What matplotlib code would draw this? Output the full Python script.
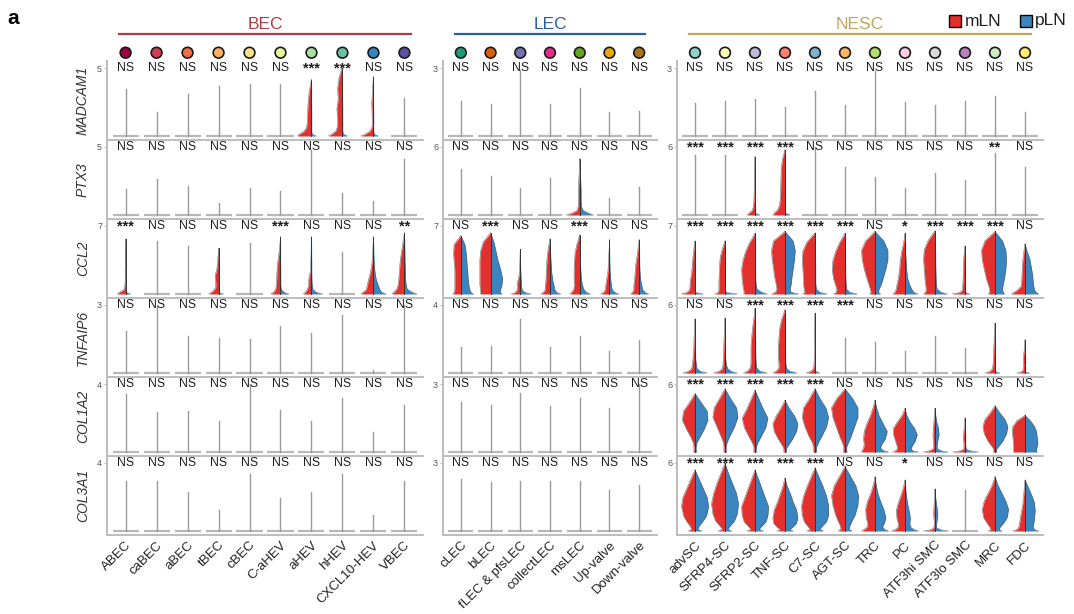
"""
Split violin plots of stromal marker genes (mLN vs pLN) across BEC, LEC and NESC subsets.
"""

import numpy as np
import matplotlib.pyplot as plt
from matplotlib.patches import Rectangle
from matplotlib.transforms import blended_transform_factory

plt.rcParams['font.family'] = ['Liberation Sans', 'DejaVu Sans']


### Data

bec_cells = ['ABEC', 'caBEC', 'aBEC', 'tBEC', 'cBEC', 'C-aHEV', 'aHEV', 'hHEV',
             'CXCL10-HEV', 'VBEC']
lec_cells = ['cLEC', 'bLEC', 'fLEC & pfsLEC', 'collectLEC', 'msLEC', 'Up-valve',
             'Down-valve']
nesc_cells = ['advSC', 'SFRP4-SC', 'SFRP2-SC', 'TNF-SC', 'C7-SC', 'AGT-SC', 'TRC',
              'PC', 'ATF3hi SMC', 'ATF3lo SMC', 'MRC', 'FDC']

bec_dots = ['#9e0142', '#d53e4f', '#f46d43', '#fdae61', '#fee08b', '#e6f598',
            '#abdda4', '#66c2a5', '#3288bd', '#5e4fa2']
lec_dots = ['#1b9e77', '#d95f02', '#7570b3', '#e7298a', '#66a61e', '#e6ab02',
            '#a6761d']
nesc_dots = ['#8dd3c7', '#ffffb3', '#bebada', '#fb8072', '#80b1d3', '#fdb462',
             '#b3de69', '#fccde5', '#d9d9d9', '#bc80bd', '#ccebc5', '#ffed6f']

genes = ['MADCAM1', 'PTX3', 'CCL2', 'TNFAIP6', 'COL1A2', 'COL3A1']
ymax_bec = [5, 5, 7, 3, 4, 4]
ymax_lec = [3, 6, 7, 4, 3, 3]
ymax_nesc = [3, 6, 7, 6, 6, 6]

# top of each violin as a fraction of the panel maximum (BEC 10, LEC 7, NESC 12)
madcam1_top = [0.69, 0.35, 0.62, 0.73, 0.77, 0.77, 0.83, 1.00, 0.87, 0.56,
               0.52, 0.47, 0.97, 0.47, 0.71, 0.36, 0.37,
               0.48, 0.52, 0.54, 0.43, 0.66, 0.45, 0.95, 0.50, 0.45, 0.52, 0.59, 0.36]
ptx3_top = [0.38, 0.53, 0.42, 0.18, 0.40, 0.35, 0.95, 0.32, 0.21, 0.82,
            0.67, 0.58, 0.40, 0.55, 0.83, 0.25, 0.41,
            0.88, 0.88, 0.86, 0.96, 1.00, 0.70, 0.56, 0.40, 0.62, 0.52, 0.91, 0.70]
ccl2_top = [0.81, 0.78, 0.70, 0.67, 0.75, 0.84, 0.84, 0.62, 0.84, 0.90,
            0.86, 0.90, 0.66, 0.81, 0.87, 0.80, 0.80,
            0.78, 0.78, 0.89, 0.92, 0.90, 0.89, 0.92, 0.89, 0.93, 0.71, 0.92, 0.74]
tnfaip6_top = [0.62, 1.00, 0.55, 0.51, 0.50, 0.69, 0.59, 0.86, 0.05, 1.00,
               0.38, 0.40, 0.80, 0.38, 0.54, 0.33, 0.49,
               0.80, 0.81, 0.95, 0.93, 0.88, 0.51, 0.45, 0.33, 0.54, 0.37, 0.73, 0.49]
col1a2_top = [0.86, 0.59, 0.60, 0.46, 1.00, 0.62, 0.45, 0.79, 0.30, 0.69,
              0.73, 0.69, 0.87, 0.68, 0.79, 0.65, 1.00,
              0.86, 0.93, 0.91, 0.76, 0.93, 0.93, 0.76, 0.64, 0.64, 0.50, 0.68, 0.54]
col3a1_top = [0.74, 0.74, 0.58, 0.31, 0.84, 0.48, 0.58, 0.84, 0.23, 0.74,
              0.77, 0.72, 0.74, 0.73, 0.73, 0.60, 0.68,
              0.90, 1.00, 0.90, 0.78, 0.93, 0.95, 0.80, 0.75, 0.62, 0.60, 0.80, 0.75]

madcam1_sig = ['NS', 'NS', 'NS', 'NS', 'NS', 'NS', '***', '***', 'NS', 'NS',
               'NS', 'NS', 'NS', 'NS', 'NS', 'NS', 'NS',
               'NS', 'NS', 'NS', 'NS', 'NS', 'NS', 'NS', 'NS', 'NS', 'NS', 'NS', 'NS']
ptx3_sig = ['NS', 'NS', 'NS', 'NS', 'NS', 'NS', 'NS', 'NS', 'NS', 'NS',
            'NS', 'NS', 'NS', 'NS', 'NS', 'NS', 'NS',
            '***', '***', '***', '***', 'NS', 'NS', 'NS', 'NS', 'NS', 'NS', '**', 'NS']
ccl2_sig = ['***', 'NS', 'NS', 'NS', 'NS', '***', 'NS', 'NS', 'NS', '**',
            'NS', '***', 'NS', 'NS', '***', 'NS', 'NS',
            '***', '***', '***', '***', '***', '***', 'NS', '*', '***', '***', '***', 'NS']
tnfaip6_sig = ['NS', 'NS', 'NS', 'NS', 'NS', 'NS', 'NS', 'NS', 'NS', 'NS',
               'NS', 'NS', 'NS', 'NS', 'NS', 'NS', 'NS',
               'NS', 'NS', '***', '***', '***', '***', 'NS', 'NS', 'NS', 'NS', 'NS', 'NS']
col1a2_sig = ['NS', 'NS', 'NS', 'NS', 'NS', 'NS', 'NS', 'NS', 'NS', 'NS',
              'NS', 'NS', 'NS', 'NS', 'NS', 'NS', 'NS',
              '***', '***', '***', '***', '***', 'NS', 'NS', 'NS', 'NS', 'NS', 'NS', 'NS']
col3a1_sig = ['NS', 'NS', 'NS', 'NS', 'NS', 'NS', 'NS', 'NS', 'NS', 'NS',
              'NS', 'NS', 'NS', 'NS', 'NS', 'NS', 'NS',
              '***', '***', '***', '***', '***', 'NS', 'NS', '*', 'NS', 'NS', 'NS', 'NS']

# violin half-widths (mLN left, pLN right) at fixed fractions of violin height
prof_h = [0, 0.03, 0.08, 0.15, 0.25, 0.40, 0.55, 0.70, 0.85, 1.0]
thin = [0.35, 0.05, 0.02, 0.02, 0.02, 0.02, 0.01, 0.01, 0.01, 0.0]

madcam1_shapes = {
    'aHEV': ([1.0, 0.9, 0.55, 0.35, 0.3, 0.28, 0.25, 0.2, 0.12, 0.0], thin),
    'hHEV': ([1.0, 0.75, 0.45, 0.35, 0.35, 0.4, 0.3, 0.35, 0.25, 0.05], thin),
    'CXCL10-HEV': ([0.9, 0.6, 0.25, 0.1, 0.08, 0.1, 0.12, 0.08, 0.05, 0.0], thin),
}
ptx3_shapes = {
    'msLEC': ([1.0, 0.6, 0.2, 0.12, 0.1, 0.1, 0.08, 0.05, 0.02, 0.0],
              [1.0, 0.7, 0.25, 0.12, 0.1, 0.1, 0.08, 0.05, 0.02, 0.0]),
    'SFRP2-SC': ([0.6, 0.45, 0.2, 0.12, 0.08, 0.06, 0.05, 0.04, 0.02, 0.0], thin),
    'TNF-SC': ([0.9, 0.8, 0.55, 0.4, 0.35, 0.32, 0.3, 0.28, 0.2, 0.0], thin),
}
ccl2_shapes = {
    'ABEC': ([0.6, 0.45, 0.12, 0.05, 0.03, 0.03, 0.02, 0.02, 0.01, 0.0], thin),
    'tBEC': ([0.7, 0.55, 0.35, 0.2, 0.2, 0.25, 0.12, 0.06, 0.03, 0.0], thin),
    'C-aHEV': ([0.7, 0.5, 0.35, 0.3, 0.28, 0.25, 0.2, 0.12, 0.05, 0.0],
               [0.6, 0.25, 0.05, 0.02, 0.02, 0.02, 0.01, 0.01, 0.01, 0.0]),
    'aHEV': ([0.6, 0.45, 0.3, 0.2, 0.2, 0.08, 0.05, 0.03, 0.02, 0.0],
             [0.8, 0.35, 0.1, 0.05, 0.03, 0.02, 0.02, 0.01, 0.01, 0.0]),
    'CXCL10-HEV': ([0.9, 0.75, 0.5, 0.45, 0.35, 0.2, 0.1, 0.06, 0.03, 0.0],
                   [0.9, 0.6, 0.45, 0.35, 0.2, 0.1, 0.05, 0.03, 0.02, 0.0]),
    'VBEC': ([0.9, 0.75, 0.55, 0.45, 0.4, 0.35, 0.3, 0.2, 0.1, 0.0],
             [0.9, 0.55, 0.2, 0.12, 0.08, 0.06, 0.04, 0.03, 0.02, 0.0]),
    'cLEC': ([0.6, 0.5, 0.45, 0.45, 0.45, 0.45, 0.5, 0.55, 0.5, 0.0],
             [0.95, 0.75, 0.65, 0.6, 0.55, 0.5, 0.45, 0.4, 0.3, 0.0]),
    'bLEC': ([0.75, 0.75, 0.75, 0.8, 0.8, 0.8, 0.8, 0.75, 0.55, 0.0],
             [0.85, 0.7, 0.75, 0.85, 0.9, 0.75, 0.55, 0.4, 0.25, 0.0]),
    'fLEC & pfsLEC': ([0.7, 0.4, 0.25, 0.2, 0.22, 0.1, 0.05, 0.03, 0.02, 0.0],
                      [0.8, 0.4, 0.15, 0.1, 0.08, 0.05, 0.03, 0.02, 0.01, 0.0]),
    'collectLEC': ([0.7, 0.5, 0.35, 0.35, 0.3, 0.28, 0.25, 0.2, 0.12, 0.0],
                   [0.8, 0.5, 0.35, 0.3, 0.2, 0.12, 0.08, 0.05, 0.03, 0.0]),
    'msLEC': ([0.75, 0.6, 0.45, 0.4, 0.42, 0.42, 0.4, 0.35, 0.2, 0.0],
              [0.8, 0.5, 0.3, 0.2, 0.12, 0.08, 0.05, 0.03, 0.02, 0.0]),
    'Up-valve': ([0.65, 0.45, 0.3, 0.28, 0.22, 0.12, 0.08, 0.05, 0.02, 0.0],
                 [0.7, 0.4, 0.2, 0.15, 0.1, 0.05, 0.03, 0.02, 0.01, 0.0]),
    'Down-valve': ([0.65, 0.5, 0.4, 0.4, 0.35, 0.3, 0.25, 0.15, 0.08, 0.0],
                   [0.7, 0.45, 0.25, 0.2, 0.12, 0.06, 0.04, 0.02, 0.01, 0.0]),
    'advSC': ([1.0, 0.6, 0.4, 0.37, 0.35, 0.25, 0.2, 0.15, 0.08, 0.0],
              [0.6, 0.05, 0.02, 0.02, 0.02, 0.02, 0.01, 0.01, 0.01, 0.0]),
    'SFRP4-SC': ([0.75, 0.5, 0.45, 0.45, 0.45, 0.42, 0.4, 0.35, 0.2, 0.0],
                 [0.9, 0.1, 0.03, 0.02, 0.02, 0.02, 0.01, 0.01, 0.01, 0.0]),
    'SFRP2-SC': ([0.85, 0.8, 0.85, 0.9, 0.95, 1.0, 0.9, 0.7, 0.4, 0.0],
                 [0.9, 0.5, 0.15, 0.08, 0.05, 0.04, 0.03, 0.02, 0.01, 0.0]),
    'TNF-SC': ([1.0, 0.7, 0.6, 0.65, 0.75, 0.85, 0.95, 1.0, 0.85, 0.0],
               [1.0, 0.45, 0.37, 0.45, 0.5, 0.6, 0.7, 0.75, 0.6, 0.0]),
    'C7-SC': ([0.9, 0.75, 0.8, 0.85, 0.85, 0.9, 0.95, 0.9, 0.6, 0.0],
              [0.9, 0.35, 0.1, 0.06, 0.05, 0.05, 0.04, 0.03, 0.02, 0.0]),
    'AGT-SC': ([0.85, 0.65, 0.6, 0.7, 0.85, 0.95, 0.9, 0.7, 0.4, 0.0],
               [0.9, 0.35, 0.12, 0.08, 0.06, 0.05, 0.04, 0.03, 0.02, 0.0]),
    'TRC': ([0.4, 0.3, 0.35, 0.45, 0.6, 0.8, 0.95, 1.0, 0.7, 0.0],
            [0.4, 0.25, 0.3, 0.45, 0.6, 0.8, 0.95, 0.95, 0.65, 0.0]),
    'PC': ([0.9, 0.75, 0.65, 0.6, 0.5, 0.4, 0.35, 0.25, 0.1, 0.0],
           [0.95, 0.65, 0.5, 0.35, 0.2, 0.12, 0.08, 0.04, 0.02, 0.0]),
    'ATF3hi SMC': ([0.85, 0.7, 0.65, 0.7, 0.75, 0.8, 0.85, 0.8, 0.5, 0.0],
                   [0.9, 0.45, 0.15, 0.1, 0.08, 0.06, 0.05, 0.04, 0.02, 0.0]),
    'ATF3lo SMC': ([0.95, 0.4, 0.2, 0.18, 0.15, 0.13, 0.12, 0.1, 0.06, 0.0], thin),
    'MRC': ([0.5, 0.4, 0.4, 0.5, 0.65, 0.8, 0.95, 1.0, 0.75, 0.0],
            [0.7, 0.6, 0.55, 0.6, 0.7, 0.8, 0.85, 0.8, 0.55, 0.0]),
    'FDC': ([1.0, 0.85, 0.55, 0.3, 0.25, 0.22, 0.2, 0.15, 0.08, 0.0],
            [1.0, 0.85, 0.7, 0.65, 0.6, 0.55, 0.45, 0.35, 0.15, 0.0]),
}
tnfaip6_shapes = {
    'advSC': ([0.9, 0.5, 0.25, 0.2, 0.15, 0.1, 0.08, 0.06, 0.03, 0.0],
              [0.9, 0.4, 0.15, 0.1, 0.05, 0.03, 0.02, 0.02, 0.01, 0.0]),
    'SFRP4-SC': ([0.85, 0.45, 0.2, 0.15, 0.12, 0.1, 0.08, 0.05, 0.03, 0.0],
                 [0.9, 0.45, 0.2, 0.1, 0.05, 0.03, 0.02, 0.01, 0.01, 0.0]),
    'SFRP2-SC': ([0.85, 0.55, 0.35, 0.3, 0.3, 0.3, 0.25, 0.18, 0.08, 0.0],
                 [0.9, 0.35, 0.12, 0.08, 0.06, 0.05, 0.04, 0.03, 0.02, 0.0]),
    'TNF-SC': ([0.9, 0.65, 0.45, 0.45, 0.5, 0.5, 0.45, 0.4, 0.25, 0.0],
               [0.9, 0.35, 0.1, 0.06, 0.05, 0.04, 0.03, 0.02, 0.01, 0.0]),
    'C7-SC': ([0.65, 0.3, 0.1, 0.07, 0.05, 0.04, 0.03, 0.02, 0.01, 0.0], thin),
    'MRC': ([0.75, 0.4, 0.2, 0.15, 0.12, 0.1, 0.08, 0.05, 0.02, 0.0], thin),
    'FDC': ([0.6, 0.3, 0.15, 0.12, 0.1, 0.12, 0.1, 0.05, 0.02, 0.0], thin),
}
col1a2_shapes = {
    'advSC': ([0.12, 0.08, 0.08, 0.12, 0.3, 0.65, 0.95, 0.85, 0.4, 0.0],
              [0.12, 0.08, 0.08, 0.12, 0.35, 0.7, 0.95, 0.9, 0.45, 0.0]),
    'SFRP4-SC': ([0.1, 0.08, 0.08, 0.12, 0.3, 0.6, 0.9, 0.8, 0.4, 0.0],
                 [0.1, 0.08, 0.08, 0.15, 0.35, 0.7, 0.95, 0.85, 0.4, 0.0]),
    'SFRP2-SC': ([0.1, 0.08, 0.08, 0.2, 0.45, 0.8, 0.95, 0.6, 0.3, 0.0],
                 [0.1, 0.08, 0.1, 0.2, 0.45, 0.8, 0.95, 0.6, 0.3, 0.0]),
    'TNF-SC': ([0.1, 0.08, 0.1, 0.25, 0.5, 0.8, 0.9, 0.65, 0.3, 0.0],
               [0.1, 0.1, 0.12, 0.3, 0.55, 0.85, 0.95, 0.7, 0.3, 0.0]),
    'C7-SC': ([0.12, 0.1, 0.1, 0.2, 0.45, 0.75, 0.95, 0.85, 0.4, 0.0],
              [0.12, 0.1, 0.12, 0.25, 0.5, 0.85, 1.0, 0.8, 0.35, 0.0]),
    'AGT-SC': ([0.15, 0.1, 0.1, 0.2, 0.4, 0.65, 0.9, 1.0, 0.6, 0.0],
               [0.15, 0.12, 0.12, 0.25, 0.45, 0.7, 0.95, 0.95, 0.55, 0.0]),
    'TRC': ([1.0, 0.95, 0.85, 0.8, 0.85, 0.8, 0.6, 0.35, 0.15, 0.0],
            [1.0, 0.6, 0.4, 0.5, 0.75, 0.9, 0.6, 0.3, 0.12, 0.0]),
    'PC': ([0.9, 0.7, 0.55, 0.6, 0.7, 0.85, 0.85, 0.55, 0.2, 0.0],
           [1.0, 0.55, 0.45, 0.55, 0.75, 0.9, 0.7, 0.35, 0.12, 0.0]),
    'ATF3hi SMC': ([0.85, 0.4, 0.12, 0.1, 0.12, 0.15, 0.12, 0.08, 0.04, 0.0],
                   [0.95, 0.45, 0.15, 0.15, 0.2, 0.3, 0.25, 0.12, 0.05, 0.0]),
    'ATF3lo SMC': ([0.9, 0.4, 0.1, 0.08, 0.08, 0.12, 0.1, 0.06, 0.03, 0.0],
                   [1.0, 0.45, 0.1, 0.06, 0.05, 0.05, 0.04, 0.03, 0.02, 0.0]),
    'MRC': ([0.12, 0.1, 0.12, 0.3, 0.55, 0.8, 0.9, 0.75, 0.35, 0.0],
            [0.12, 0.1, 0.15, 0.35, 0.6, 0.85, 0.95, 0.75, 0.35, 0.0]),
    'FDC': ([0.85, 0.85, 0.85, 0.85, 0.85, 0.9, 0.95, 0.9, 0.6, 0.0],
            [0.9, 0.85, 0.85, 0.9, 0.95, 0.9, 0.85, 0.7, 0.4, 0.0]),
}
col3a1_shapes = {
    'advSC': ([0.5, 0.25, 0.35, 0.6, 0.85, 1.0, 0.9, 0.6, 0.3, 0.0],
              [0.5, 0.2, 0.3, 0.55, 0.85, 1.0, 0.9, 0.6, 0.3, 0.0]),
    'SFRP4-SC': ([0.5, 0.2, 0.4, 0.7, 0.9, 1.0, 0.85, 0.6, 0.3, 0.0],
                 [0.5, 0.2, 0.4, 0.7, 0.9, 1.0, 0.85, 0.55, 0.25, 0.0]),
    'SFRP2-SC': ([0.6, 0.3, 0.5, 0.8, 0.95, 1.0, 0.75, 0.5, 0.25, 0.0],
                 [0.6, 0.3, 0.5, 0.8, 0.95, 1.0, 0.75, 0.5, 0.25, 0.0]),
    'TNF-SC': ([0.6, 0.35, 0.6, 0.85, 0.9, 0.8, 0.55, 0.35, 0.15, 0.0],
               [0.6, 0.35, 0.6, 0.85, 0.95, 0.85, 0.6, 0.4, 0.15, 0.0]),
    'C7-SC': ([0.6, 0.35, 0.55, 0.8, 0.95, 1.0, 0.85, 0.6, 0.3, 0.0],
              [0.6, 0.35, 0.55, 0.85, 1.0, 1.0, 0.85, 0.6, 0.3, 0.0]),
    'AGT-SC': ([0.5, 0.3, 0.35, 0.5, 0.7, 0.9, 1.0, 0.8, 0.4, 0.0],
               [0.5, 0.3, 0.35, 0.5, 0.75, 0.95, 1.0, 0.8, 0.4, 0.0]),
    'TRC': ([1.0, 0.8, 0.55, 0.55, 0.65, 0.7, 0.55, 0.3, 0.12, 0.0],
            [1.0, 0.7, 0.55, 0.7, 0.8, 0.65, 0.4, 0.2, 0.08, 0.0]),
    'PC': ([1.0, 0.7, 0.5, 0.5, 0.6, 0.65, 0.5, 0.3, 0.12, 0.0],
           [1.0, 0.65, 0.4, 0.35, 0.4, 0.3, 0.18, 0.1, 0.04, 0.0]),
    'ATF3hi SMC': ([0.85, 0.3, 0.08, 0.06, 0.06, 0.1, 0.08, 0.05, 0.03, 0.0],
                   [1.0, 0.4, 0.12, 0.1, 0.15, 0.2, 0.15, 0.08, 0.03, 0.0]),
    'MRC': ([0.5, 0.3, 0.4, 0.6, 0.85, 0.95, 0.8, 0.5, 0.2, 0.0],
            [0.5, 0.3, 0.4, 0.65, 0.9, 1.0, 0.8, 0.5, 0.2, 0.0]),
    'FDC': ([0.9, 0.6, 0.45, 0.4, 0.35, 0.25, 0.15, 0.1, 0.05, 0.0],
            [1.0, 0.7, 0.6, 0.65, 0.7, 0.75, 0.7, 0.5, 0.25, 0.0]),
}

tops = [madcam1_top, ptx3_top, ccl2_top, tnfaip6_top, col1a2_top, col3a1_top]
sigs = [madcam1_sig, ptx3_sig, ccl2_sig, tnfaip6_sig, col1a2_sig, col3a1_sig]
shapes = [madcam1_shapes, ptx3_shapes, ccl2_shapes, tnfaip6_shapes,
          col1a2_shapes, col3a1_shapes]


### Layout (figure pixels)
W, H = 1074, 614
RED, BLUE = '#e3302d', '#3a84c0'
AXCOL = '#bdbdbd'

fig = plt.figure(figsize=(W / 100, H / 100), dpi=100)

# overlay axes in pixel coordinates for headers, labels and legend
lay = fig.add_axes([0, 0, 1, 1])
lay.set_xlim(0, W)
lay.set_ylim(H, 0)
lay.axis('off')

groups = [('BEC', bec_cells, bec_dots, ymax_bec, '#b03a48', 107, 316),
          ('LEC', lec_cells, lec_dots, ymax_lec, '#2c5f9e', 443, 214),
          ('NESC', nesc_cells, nesc_dots, ymax_nesc, '#c2a55e', 677, 366)]
row_top, row_h = 61, 79
h = np.array(prof_h)

offset = 0
for name, cells, dots, ymaxs, gcol, x0, w in groups:
    n = len(cells)
    for r, gene in enumerate(genes):
        y0 = row_top + r * row_h
        ax = fig.add_axes([x0 / W, 1 - (y0 + row_h) / H, w / W, row_h / H])
        ax.patch.set_visible(False)
        ym = ymaxs[r]
        ax.set_xlim(-0.6, n - 0.4)
        ax.set_ylim(-ym * 4 / 68, ym * 75 / 68)

        for i, cell in enumerate(cells):
            top = tops[r][offset + i] * ym
            yy = h * top
            if cell in shapes[r]:
                red, blue = shapes[r][cell]
                xr = i - 0.45 * np.array(red)
                xb = i + 0.45 * np.array(blue)
                ax.fill_betweenx(yy, xr, i, color=RED, lw=0)
                ax.fill_betweenx(yy, i, xb, color=BLUE, lw=0)
                ax.plot(xr, yy, color='#5a5a5a', lw=0.35)
                ax.plot(xb, yy, color='#5a5a5a', lw=0.35)
                ax.plot([i, i], [0, top], color='#333333', lw=0.7)
            else:
                ax.plot([i - 0.42, i + 0.42], [0, 0], color='#b8b8b8', lw=1.6,
                        solid_capstyle='butt')
                ax.plot([i, i], [0, top], color='#9a9a9a', lw=1.0)

            s = sigs[r][offset + i]
            if '*' in s:
                ax.text(i, ym, s, ha='center', va='center', fontsize=10.5,
                        fontweight='bold', color='#1e1e1e')
            else:
                ax.text(i, ym, s, ha='center', va='center', fontsize=8.8,
                        color='#1e1e1e')

        for sp in ['top', 'right']:
            ax.spines[sp].set_visible(False)
        for sp in ['left', 'bottom']:
            ax.spines[sp].set_color(AXCOL)
            ax.spines[sp].set_linewidth(1.4)
        ax.set_yticks([ym])
        ax.set_yticklabels([str(ym)])
        ax.tick_params(axis='y', length=2, width=0.8, color=AXCOL, pad=1.5,
                       labelsize=6.5, labelcolor='#555555')
        if r == len(genes) - 1:
            ax.set_xticks(range(n))
            ax.set_xticklabels(cells, rotation=45, ha='right',
                               rotation_mode='anchor', fontsize=9.5,
                               color='#222222')
            ax.tick_params(axis='x', length=0, pad=3)
        else:
            ax.set_xticks([])

        if r == 0:
            # header: coloured cluster dots, group bar and title
            tr = blended_transform_factory(ax.transData, lay.transData)
            ax.scatter(range(n), [52.7] * n, s=60, c=dots, edgecolors='#1a1a1a',
                       linewidths=1.2, transform=tr, clip_on=False, zorder=5)
            ax.plot([-0.2, n - 0.8], [34, 34], color=gcol, lw=1.6,
                    transform=tr, clip_on=False)
            lay.text(x0 + w / 2, 24.5, name, ha='center', va='center',
                     fontsize=12.5, color=gcol)
    offset += n

# gene names
for r, gene in enumerate(genes):
    lay.text(83, row_top + r * row_h + row_h / 2, gene, rotation=90,
             ha='center', va='center', fontsize=10, style='italic',
             color='#333333')

# legend
lay.add_patch(Rectangle((949, 15), 12, 12, facecolor=RED, edgecolor='black', lw=1))
lay.text(965, 21, 'mLN', ha='left', va='center', fontsize=12.5, color='#1e1e1e')
lay.add_patch(Rectangle((1020, 15), 12, 12, facecolor=BLUE, edgecolor='black', lw=1))
lay.text(1035, 21, 'pLN', ha='left', va='center', fontsize=12.5, color='#1e1e1e')

# panel letter
lay.text(7, 18, 'a', ha='left', va='center', fontsize=15, fontweight='bold')

fig.savefig('out.png', dpi=100)
